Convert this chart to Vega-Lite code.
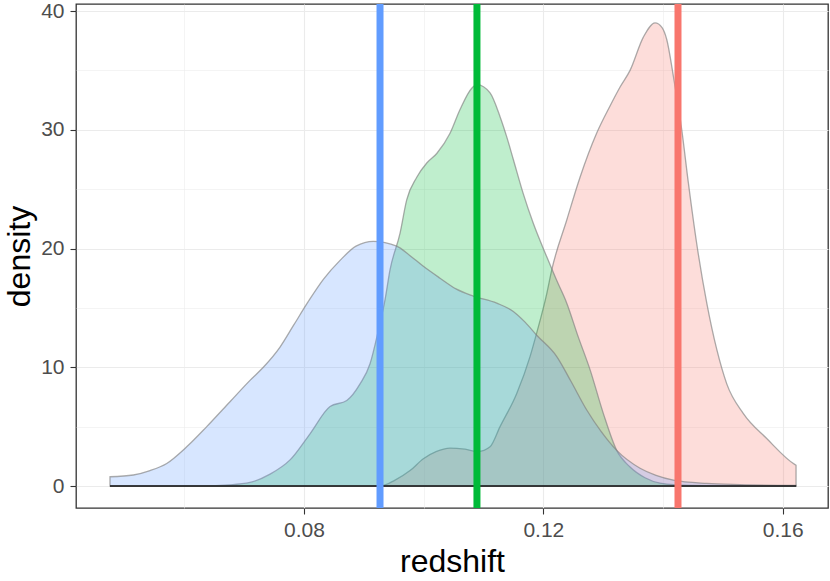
{
  "$schema": "https://vega.github.io/schema/vega-lite/v6.json",
  "autosize": {"type": "none"},
  "width": 752,
  "height": 504,
  "padding": {"left": 76, "top": 4, "right": 2, "bottom": 73},
  "background": "white",
  "config": {
    "view": {"stroke": "#333333", "strokeWidth": 1.3},
    "font": "Liberation Sans",
    "axis": {
      "domain": false,
      "gridColor": "#ebebeb",
      "tickColor": "#333333",
      "tickSize": 6,
      "tickWidth": 1.1,
      "labelColor": "#4d4d4d",
      "labelFontSize": 21,
      "labelFont": "Liberation Sans",
      "titleFont": "Liberation Sans",
      "titleFontSize": 32,
      "titleFontWeight": "normal",
      "titleColor": "#000000"
    }
  },
  "data": {
    "values": [
      {"g": "red", "x": 0.04757, "y": 0},
      {"g": "red", "x": 0.0927, "y": 0},
      {"g": "red", "x": 0.09521, "y": 0.5},
      {"g": "red", "x": 0.09772, "y": 1.3},
      {"g": "red", "x": 0.09994, "y": 2.3},
      {"g": "red", "x": 0.10206, "y": 2.9},
      {"g": "red", "x": 0.1044, "y": 3.2},
      {"g": "red", "x": 0.10691, "y": 3.1},
      {"g": "red", "x": 0.10908, "y": 2.9},
      {"g": "red", "x": 0.11109, "y": 3.3},
      {"g": "red", "x": 0.11276, "y": 5.0},
      {"g": "red", "x": 0.11555, "y": 7.8},
      {"g": "red", "x": 0.11777, "y": 10.9},
      {"g": "red", "x": 0.11889, "y": 12.9},
      {"g": "red", "x": 0.12057, "y": 16.2},
      {"g": "red", "x": 0.1214, "y": 18.2},
      {"g": "red", "x": 0.12391, "y": 22.4},
      {"g": "red", "x": 0.12613, "y": 26.0},
      {"g": "red", "x": 0.1289, "y": 29.7},
      {"g": "red", "x": 0.13114, "y": 32.0},
      {"g": "red", "x": 0.13282, "y": 33.6},
      {"g": "red", "x": 0.13449, "y": 35.0},
      {"g": "red", "x": 0.13671, "y": 37.8},
      {"g": "red", "x": 0.13867, "y": 39.0},
      {"g": "red", "x": 0.13984, "y": 38.6},
      {"g": "red", "x": 0.14062, "y": 37.6},
      {"g": "red", "x": 0.14173, "y": 34.5},
      {"g": "red", "x": 0.14313, "y": 30.0},
      {"g": "red", "x": 0.14424, "y": 25.5},
      {"g": "red", "x": 0.14563, "y": 20.4},
      {"g": "red", "x": 0.14731, "y": 15.4},
      {"g": "red", "x": 0.14898, "y": 11.5},
      {"g": "red", "x": 0.15065, "y": 8.6},
      {"g": "red", "x": 0.15343, "y": 6.1},
      {"g": "red", "x": 0.15733, "y": 4.0},
      {"g": "red", "x": 0.16206, "y": 1.8},
      {"g": "red", "x": 0.16223, "y": 1.75},
      {"g": "green", "x": 0.04757, "y": 0},
      {"g": "green", "x": 0.06262, "y": 0.02},
      {"g": "green", "x": 0.06763, "y": 0.1},
      {"g": "green", "x": 0.07097, "y": 0.3},
      {"g": "green", "x": 0.07432, "y": 1.0},
      {"g": "green", "x": 0.07766, "y": 2.2},
      {"g": "green", "x": 0.081, "y": 4.4},
      {"g": "green", "x": 0.08435, "y": 6.7},
      {"g": "green", "x": 0.08714, "y": 7.2},
      {"g": "green", "x": 0.08936, "y": 8.6},
      {"g": "green", "x": 0.09103, "y": 10.3},
      {"g": "green", "x": 0.09242, "y": 13.1},
      {"g": "green", "x": 0.09354, "y": 15.7},
      {"g": "green", "x": 0.09437, "y": 18.2},
      {"g": "green", "x": 0.09605, "y": 21.3},
      {"g": "green", "x": 0.09716, "y": 24.1},
      {"g": "green", "x": 0.09884, "y": 26.0},
      {"g": "green", "x": 0.10051, "y": 27.2},
      {"g": "green", "x": 0.10218, "y": 28.0},
      {"g": "green", "x": 0.1044, "y": 29.7},
      {"g": "green", "x": 0.10607, "y": 31.7},
      {"g": "green", "x": 0.10803, "y": 33.5},
      {"g": "green", "x": 0.10892, "y": 33.8},
      {"g": "green", "x": 0.11109, "y": 33.1},
      {"g": "green", "x": 0.11276, "y": 31.1},
      {"g": "green", "x": 0.11388, "y": 29.4},
      {"g": "green", "x": 0.11498, "y": 27.5},
      {"g": "green", "x": 0.11665, "y": 24.6},
      {"g": "green", "x": 0.11833, "y": 22.1},
      {"g": "green", "x": 0.12057, "y": 19.3},
      {"g": "green", "x": 0.12224, "y": 17.3},
      {"g": "green", "x": 0.12391, "y": 15.4},
      {"g": "green", "x": 0.1258, "y": 12.6},
      {"g": "green", "x": 0.1278, "y": 9.8},
      {"g": "green", "x": 0.13003, "y": 6.1},
      {"g": "green", "x": 0.13226, "y": 3.0},
      {"g": "green", "x": 0.13449, "y": 1.6},
      {"g": "green", "x": 0.13699, "y": 0.7},
      {"g": "green", "x": 0.1395, "y": 0.25},
      {"g": "green", "x": 0.14451, "y": 0.05},
      {"g": "green", "x": 0.15287, "y": 0},
      {"g": "green", "x": 0.16223, "y": 0},
      {"g": "blue", "x": 0.04757, "y": 0.78},
      {"g": "blue", "x": 0.05147, "y": 0.93},
      {"g": "blue", "x": 0.05426, "y": 1.3},
      {"g": "blue", "x": 0.05705, "y": 1.9},
      {"g": "blue", "x": 0.06039, "y": 3.3},
      {"g": "blue", "x": 0.06374, "y": 5.0},
      {"g": "blue", "x": 0.06763, "y": 7.1},
      {"g": "blue", "x": 0.07097, "y": 8.9},
      {"g": "blue", "x": 0.0732, "y": 10.0},
      {"g": "blue", "x": 0.07599, "y": 11.7},
      {"g": "blue", "x": 0.07821, "y": 13.5},
      {"g": "blue", "x": 0.08067, "y": 15.5},
      {"g": "blue", "x": 0.08323, "y": 17.4},
      {"g": "blue", "x": 0.08602, "y": 19.0},
      {"g": "blue", "x": 0.08869, "y": 20.2},
      {"g": "blue", "x": 0.09158, "y": 20.6},
      {"g": "blue", "x": 0.09549, "y": 20.2},
      {"g": "blue", "x": 0.09772, "y": 19.4},
      {"g": "blue", "x": 0.09994, "y": 18.5},
      {"g": "blue", "x": 0.10273, "y": 17.5},
      {"g": "blue", "x": 0.1054, "y": 16.6},
      {"g": "blue", "x": 0.10829, "y": 16.0},
      {"g": "blue", "x": 0.11221, "y": 15.4},
      {"g": "blue", "x": 0.11498, "y": 14.7},
      {"g": "blue", "x": 0.11694, "y": 13.8},
      {"g": "blue", "x": 0.11889, "y": 12.7},
      {"g": "blue", "x": 0.12224, "y": 10.9},
      {"g": "blue", "x": 0.12463, "y": 8.8},
      {"g": "blue", "x": 0.12725, "y": 6.4},
      {"g": "blue", "x": 0.12964, "y": 4.6},
      {"g": "blue", "x": 0.13226, "y": 3.0},
      {"g": "blue", "x": 0.13616, "y": 1.5},
      {"g": "blue", "x": 0.13883, "y": 0.9},
      {"g": "blue", "x": 0.14172, "y": 0.5},
      {"g": "blue", "x": 0.14731, "y": 0.22},
      {"g": "blue", "x": 0.15287, "y": 0.12},
      {"g": "blue", "x": 0.16223, "y": 0.05}
    ]
  },
  "layer": [
    {
      "transform": [{"filter": "datum.g === 'red'"}],
      "mark": {"type": "area", "interpolate": "monotone", "fill": "#F8766D", "fillOpacity": 0.25, "stroke": "#7f7f7f", "strokeOpacity": 0.65, "strokeWidth": 1.3},
      "encoding": {
        "x": {
          "field": "x", "type": "quantitative", "title": "redshift",
          "scale": {"domain": [0.04189, 0.16757], "nice": false, "zero": false},
          "axis": {
            "values": [0.06, 0.08, 0.1, 0.12, 0.14, 0.16],
            "labelExpr": "round(datum.value*100) % 4 === 0 ? format(datum.value, '.2f') : ''",
            "gridWidth": {"condition": {"test": "round(datum.value*100) % 4 === 0", "value": 1.1}, "value": 0.55},
            "tickOpacity": {"condition": {"test": "round(datum.value*100) % 4 === 0", "value": 1}, "value": 0},
            "labelPadding": 5,
            "titlePadding": 6
          }
        },
        "y": {
          "field": "y", "type": "quantitative", "title": "density",
          "scale": {"domain": [-1.85, 40.59], "nice": false, "zero": false},
          "axis": {
            "values": [0, 5, 10, 15, 20, 25, 30, 35, 40],
            "labelExpr": "datum.value % 10 === 0 ? datum.label : ''",
            "gridWidth": {"condition": {"test": "datum.value % 10 === 0", "value": 1.1}, "value": 0.55},
            "tickOpacity": {"condition": {"test": "datum.value % 10 === 0", "value": 1}, "value": 0},
            "labelPadding": 6,
            "titlePadding": 4
          }
        }
      }
    },
    {
      "transform": [{"filter": "datum.g === 'green'"}],
      "mark": {"type": "area", "interpolate": "monotone", "fill": "#00BA38", "fillOpacity": 0.25, "stroke": "#7f7f7f", "strokeOpacity": 0.65, "strokeWidth": 1.3},
      "encoding": {
        "x": {"field": "x", "type": "quantitative", "title": "redshift"},
        "y": {"field": "y", "type": "quantitative", "title": "density"}
      }
    },
    {
      "transform": [{"filter": "datum.g === 'blue'"}],
      "mark": {"type": "area", "interpolate": "monotone", "fill": "#619CFF", "fillOpacity": 0.25, "stroke": "#7f7f7f", "strokeOpacity": 0.65, "strokeWidth": 1.3},
      "encoding": {
        "x": {"field": "x", "type": "quantitative", "title": "redshift"},
        "y": {"field": "y", "type": "quantitative", "title": "density"}
      }
    },
    {
      "data": {"values": [{"lo": 0.04757, "hi": 0.16223, "z": 0}]},
      "mark": {"type": "rule", "color": "#1a1a1a", "strokeWidth": 1.6},
      "encoding": {
        "x": {"field": "lo", "type": "quantitative", "title": "redshift"},
        "x2": {"field": "hi"},
        "y": {"field": "z", "type": "quantitative", "title": "density"}
      }
    },
    {
      "data": {"values": [
        {"g": "blue", "m": 0.0927},
        {"g": "green", "m": 0.1089},
        {"g": "red", "m": 0.1425}
      ]},
      "mark": {"type": "rule", "strokeWidth": 7},
      "encoding": {
        "x": {"field": "m", "type": "quantitative", "title": "redshift"},
        "color": {
          "field": "g", "type": "nominal", "legend": null,
          "scale": {"domain": ["red", "green", "blue"], "range": ["#F8766D", "#00BA38", "#619CFF"]}
        }
      }
    }
  ]
}
